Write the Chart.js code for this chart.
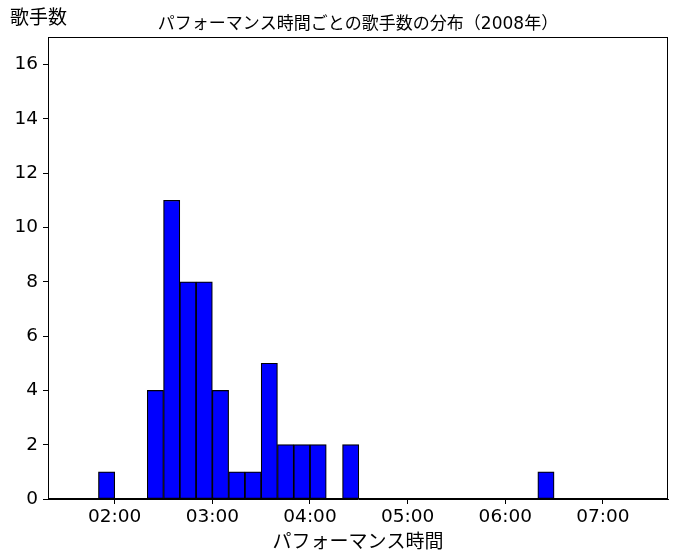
<!DOCTYPE html>
<html>
<head>
<meta charset="utf-8">
<script src="https://cdn.jsdelivr.net/npm/chart.js@4/dist/chart.umd.min.js"></script>
<style>
  html, body { margin: 0; padding: 0; background: #fff; }
  #wrap { width: 678px; height: 560px; position: relative; }
</style>
</head>
<body>
<div id="wrap"><canvas id="c" width="678" height="560"></canvas></div>
<script>
// Histogram bins: start minute of each 10-minute bin (performance time)
const binStarts = [90,100,110,120,130,140,150,160,170,180,190,200,210,220,230,240,250,260,270,280,290,300,310,320,330,340,350,360,370,380,390,400,410,420,430,440];
// Number of singers per bin
const counts    = [0,0,1,0,0,4,11,8,8,4,1,1,5,2,2,2,0,2,0,0,0,0,0,0,0,0,0,0,0,1,0,0,0,0,0,0];
const binWidth = 10;
// Tick values (minutes) and labels
const xTickValues = [120,180,240,300,360,420];
const xTickLabels = ['02:00','03:00','04:00','05:00','06:00','07:00'];
const yTickValues = [0,2,4,6,8,10,12,14,16];

const titleText = 'パフォーマンス時間ごとの歌手数の分布（2008年）';
const xTitle = 'パフォーマンス時間';
const yTitle = '歌手数';

const FONT = '"DejaVu Sans", "Noto Sans CJK JP", sans-serif';
const CJK = '"Noto Sans CJK JP", "DejaVu Sans", sans-serif';

const points = binStarts.map((s, i) => ({ x: s + binWidth / 2, y: counts[i] }));

const frame = {
  id: 'frame',
  afterDraw(chart) {
    const { ctx, chartArea: a } = chart;
    ctx.save();
    ctx.strokeStyle = '#000';
    ctx.lineWidth = 1;
    ctx.strokeRect(Math.round(a.left) + 0.5, Math.round(a.top) + 0.5, Math.round(a.right - a.left) - 1, Math.round(a.bottom - a.top) - 1);
    ctx.fillStyle = '#000';
    ctx.font = '19px ' + CJK;
    ctx.textAlign = 'left';
    ctx.textBaseline = 'middle';
    ctx.fillText(yTitle, 10, 17);
    ctx.restore();
  }
};

new Chart(document.getElementById('c'), {
  type: 'bar',
  data: {
    datasets: [{
      data: points,
      backgroundColor: '#0000ff',
      borderColor: '#000000',
      borderWidth: 1.2,
      borderSkipped: false,
      barPercentage: 1,
      categoryPercentage: 1
    }]
  },
  options: {
    responsive: false,
    animation: false,
    devicePixelRatio: 1,
    layout: { padding: { left: 0, right: 10, top: 0, bottom: 0 } },
    plugins: {
      legend: { display: false },
      tooltip: { enabled: false },
      title: {
        display: true,
        fullSize: false,
        text: titleText,
        color: '#000',
        font: { family: FONT, size: 17, weight: 'normal' },
        padding: { top: 14, bottom: 3 }
      }
    },
    scales: {
      x: {
        type: 'linear',
        min: 79,
        max: 460,
        offset: false,
        afterBuildTicks(scale) { scale.ticks = xTickValues.map(v => ({ value: v })); },
        afterFit(scale) { scale.height = 61; },
        ticks: {
          color: '#000',
          font: { family: FONT, size: 18.5 },
          padding: 2,
          maxRotation: 0,
          autoSkip: false,
          callback(v) { const i = xTickValues.indexOf(v); return i >= 0 ? xTickLabels[i] : ''; }
        },
        grid: { offset: false, drawOnChartArea: false, drawTicks: true, tickLength: 5, color: '#000', tickColor: '#000' },
        border: { display: true, color: '#000', width: 1 },
        title: { display: true, text: xTitle, color: '#000', font: { family: CJK, size: 19 }, padding: { top: 0, bottom: 8 } }
      },
      y: {
        min: 0,
        max: 17,
        afterBuildTicks(scale) { scale.ticks = yTickValues.map(v => ({ value: v })); },
        afterFit(scale) { scale.width = 48; },
        ticks: { color: '#000', font: { family: FONT, size: 18.5 }, padding: 5 },
        grid: { drawOnChartArea: false, drawTicks: true, tickLength: 5, color: '#000', tickColor: '#000' },
        border: { display: true, color: '#000', width: 1 }
      }
    }
  },
  plugins: [frame]
});
</script>
</body>
</html>
